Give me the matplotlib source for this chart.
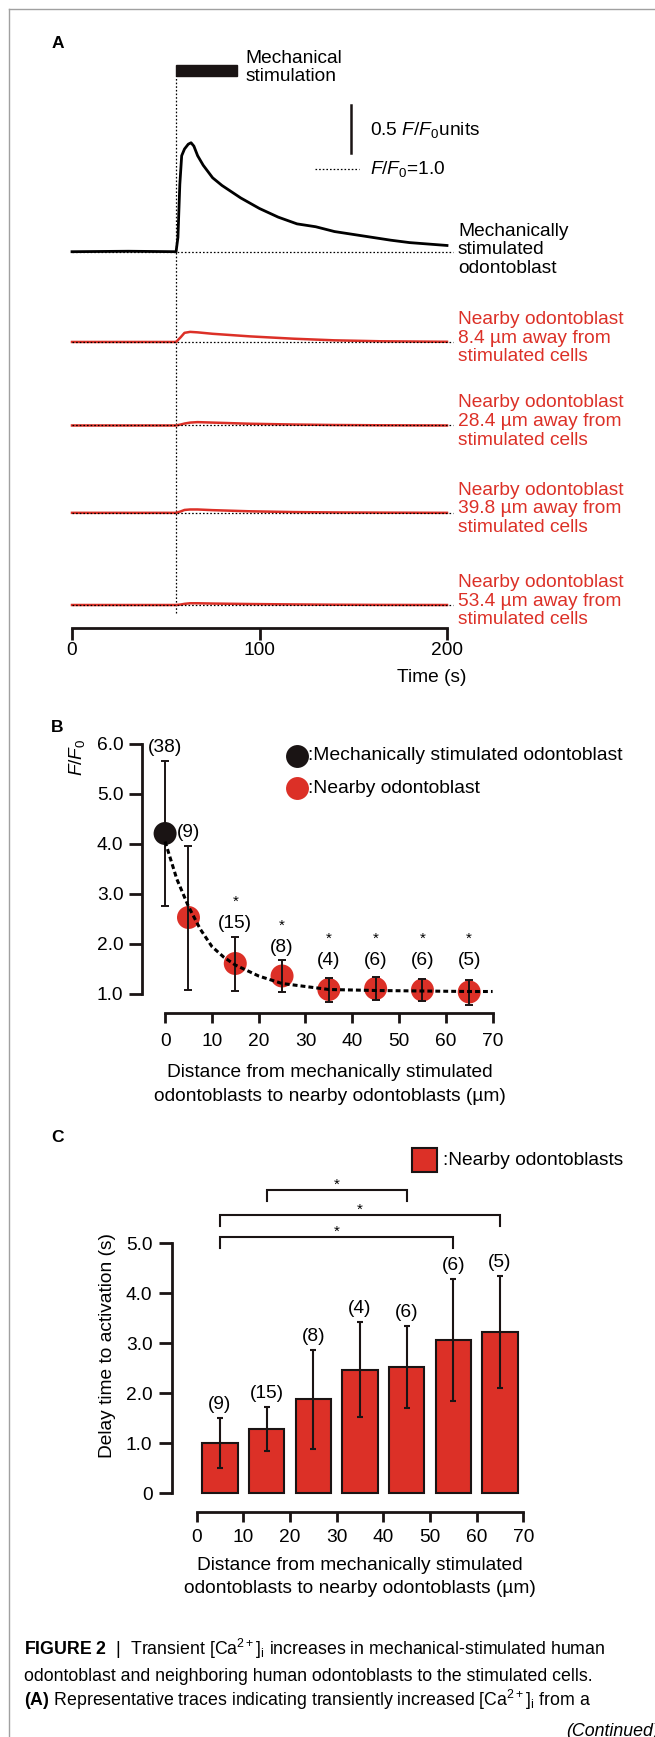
import matplotlib
matplotlib.use('Agg')
import matplotlib.pyplot as plt
from matplotlib.lines import Line2D
from matplotlib.patches import Rectangle

plt.rcParams['font.family'] = ['Liberation Sans', 'DejaVu Sans']
plt.rcParams['mathtext.fontset'] = 'custom'
plt.rcParams['mathtext.rm'] = 'Liberation Sans'
plt.rcParams['mathtext.it'] = 'Liberation Sans:italic'
plt.rcParams['mathtext.bf'] = 'Liberation Sans:bold'

RED = '#DC3027'
BLACK = '#1a1414'

# ---------------- data ----------------
# Panel A: representative traces, F/F0 - 1 against time (s)
stim_on, stim_off = 55.5, 88.0
t_stim = [0, 30, 55.5, 56.5, 57.5, 58.5, 60, 62, 63.5, 65, 67, 70, 75, 80, 90,
          100, 110, 120, 130, 140, 150, 160, 170, 180, 190, 200]
f_stim = [0, 0.005, 0, 0.15, 0.7, 1.0, 1.07, 1.12, 1.135, 1.10, 1.0, 0.9, 0.77,
          0.69, 0.56, 0.45, 0.36, 0.29, 0.26, 0.21, 0.18, 0.15, 0.12, 0.095, 0.08, 0.065]
t_near = [0, 55.5, 58, 60, 63, 67, 75, 95, 118, 140, 165, 200]
f_near = [
    [0, 0, 0.05, 0.095, 0.105, 0.10, 0.085, 0.058, 0.034, 0.017, 0.007, 0.002],
    [0, 0, 0.01, 0.02, 0.03, 0.035, 0.03, 0.018, 0.01, 0.005, 0.002, 0],
    [0, 0, 0.015, 0.03, 0.035, 0.035, 0.028, 0.016, 0.008, 0.004, 0.002, 0],
    [0, 0, 0.005, 0.012, 0.018, 0.018, 0.015, 0.01, 0.006, 0.003, 0.001, 0],
]
near_dist = ['8.4', '28.4', '39.8', '53.4']
time_ticks = [0, 100, 200]

# Panel B: peak F/F0 against distance
dist_b = [0, 5, 15, 25, 35, 45, 55, 65]
mean_b = [4.21, 2.53, 1.61, 1.36, 1.09, 1.11, 1.08, 1.04]
sd_b = [1.45, 1.44, 0.54, 0.32, 0.24, 0.23, 0.22, 0.25]
n_b = [38, 9, 15, 8, 4, 6, 6, 5]
sig_b = [False, False, True, True, True, True, True, True]
fit_x = [0, 2.5, 5, 7.5, 10, 12.5, 15, 20, 25, 30, 35, 45, 55, 65, 70]
fit_y = [4.05, 3.3, 2.75, 2.3, 1.95, 1.74, 1.58, 1.36, 1.21, 1.15, 1.09, 1.07, 1.06, 1.05, 1.05]

# Panel C: delay time to activation
dist_c = [5, 15, 25, 35, 45, 55, 65]
delay = [1.0, 1.29, 1.88, 2.47, 2.52, 3.07, 3.23]
delay_sd = [0.5, 0.44, 0.99, 0.95, 0.82, 1.22, 1.12]
n_c = [9, 15, 8, 4, 6, 6, 5]
pairs_c = [(15, 45), (5, 65), (5, 55)]

# ---------------- layout helpers ----------------
W, H = 655, 1737
fig = plt.figure(figsize=(W / 100, H / 100), dpi=100)


def fx(px):
    return px / W


def fy(py):
    return 1 - py / H


def axes_px(left, top, right, bottom):
    return fig.add_axes([fx(left), fy(bottom), (right - left) / W, (bottom - top) / H])


def ftext(px, py, s, **kw):
    return fig.text(fx(px), fy(py), s, **kw)


# page frame
fig.add_artist(Line2D([fx(9), fx(9)], [fy(9), 0], color='#a0a0a0', lw=1.0))
fig.add_artist(Line2D([fx(9), 1], [fy(9), fy(9)], color='#a0a0a0', lw=1.0))

FS = 13.8
dotted = (0, (1.3, 1.6))

# ---------------- Panel A ----------------
axA = axes_px(72, 60, 447, 628)
axA.set_xlim(0, 200)
axA.set_ylim(-0.2396, 5.677)
offsets = [3.68, 2.74, 1.87, 0.96, 0.0]

axA.plot([0, 203], [offsets[0]] * 2, color='k', lw=0.9, ls=dotted, clip_on=False)
axA.plot(t_stim, [v + offsets[0] for v in f_stim], color='k', lw=2.0, clip_on=False, zorder=3)
ftext(458, 250, 'Mechanically\nstimulated\nodontoblast', fontsize=FS, va='center',
      ha='left', linespacing=1.14)
for i, vals in enumerate(f_near):
    off = offsets[i + 1]
    axA.plot([0, 203], [off, off], color='k', lw=0.9, ls=dotted, clip_on=False, zorder=4)
    axA.plot(t_near, [v + off for v in vals], color=RED, lw=1.8, clip_on=False, zorder=3)
    axA.text(206, off + 0.04, 'Nearby odontoblast\n%s \u00b5m away from\nstimulated cells' % near_dist[i],
             fontsize=FS, color=RED, va='center', ha='left', linespacing=1.14, clip_on=False)

# stimulus marker and onset line
axA.add_patch(Rectangle((stim_on, 5.51), stim_off - stim_on, 0.115, color=BLACK, clip_on=False))
axA.plot([stim_on, stim_on], [-0.083, 5.51], color='k', lw=0.9, ls=dotted, clip_on=False)
axA.text(92.4, 5.60, 'Mechanical\nstimulation', fontsize=FS, va='center', ha='left', linespacing=1.08)

# scale bar
axA.plot([149, 149], [4.708, 5.208], color=BLACK, lw=1.8)
axA.text(158.8, 4.95, r'0.5 $\mathit{F/F_0}$units', fontsize=FS, va='center', ha='left')
axA.plot([129.7, 153], [4.54, 4.54], color='k', lw=0.9, ls=dotted)
axA.text(159.1, 4.54, r'$\mathit{F/F_0}$=1.0', fontsize=FS, va='center', ha='left')

for s in ['left', 'right', 'top']:
    axA.spines[s].set_visible(False)
axA.spines['bottom'].set_linewidth(2.0)
axA.spines['bottom'].set_color(BLACK)
axA.set_yticks([])
axA.set_xticks(time_ticks)
axA.set_xticklabels([str(t) for t in time_ticks])
axA.tick_params(axis='x', direction='out', length=8.4, width=2.0, color=BLACK,
                labelsize=FS, pad=2)
ftext(432, 677, 'Time (s)', fontsize=FS, ha='center', va='center')
ftext(58, 43, 'A', fontsize=12.5, fontweight='bold', ha='center', va='center')

# ---------------- Panel B ----------------
axB = axes_px(141.7, 744, 492.6, 1013)
axB.set_xlim(-5, 70)
axB.set_ylim(0.62, 6.0)
colors_b = [BLACK] + [RED] * (len(dist_b) - 1)
axB.scatter(dist_b, mean_b, s=274, c=colors_b, linewidths=0, zorder=2, clip_on=False)
axB.errorbar(dist_b, mean_b, yerr=sd_b, fmt='none', ecolor=BLACK, elinewidth=1.4,
             capsize=3, capthick=1.4, zorder=3, clip_on=False)
axB.plot(fit_x, fit_y, color='k', lw=2.2, ls=(0, (1.6, 1.0)), zorder=4, clip_on=False)
for x, m, sd, n, sig in zip(dist_b, mean_b, sd_b, n_b, sig_b):
    ly = max(m + sd + 0.26, 1.67)
    axB.text(x, ly, '(%d)' % n, fontsize=FS, ha='center', va='center', clip_on=False)
    if sig:
        axB.text(x, ly + 0.52 - 0.17, '*', fontsize=11, ha='center', va='baseline', clip_on=False)

for s in ['right', 'top']:
    axB.spines[s].set_visible(False)
for s in ['left', 'bottom']:
    axB.spines[s].set_linewidth(2.0)
    axB.spines[s].set_color(BLACK)
axB.spines['left'].set_bounds(1, 6)
axB.spines['bottom'].set_bounds(0, 70)
axB.set_yticks([1, 2, 3, 4, 5, 6])
axB.set_yticklabels(['1.0', '2.0', '3.0', '4.0', '5.0', '6.0'])
axB.set_xticks(range(0, 71, 10))
axB.tick_params(axis='y', direction='out', length=9.4, width=2.0, color=BLACK,
                labelsize=FS, pad=3.8)
axB.tick_params(axis='x', direction='out', length=7.2, width=2.0, color=BLACK,
                labelsize=FS, pad=7.2)
ftext(77, 757, r'$\mathit{F/F_0}$', fontsize=FS, rotation=90, ha='center', va='center')
ftext(330, 1084.5, 'Distance from mechanically stimulated\nodontoblasts to nearby odontoblasts (\u00b5m)',
      fontsize=FS, ha='center', va='center', linespacing=1.5)
ftext(57, 727, 'B', fontsize=12.5, fontweight='bold', ha='center', va='center')

# legend B
fig.add_artist(Line2D([fx(297.3)], [fy(756)], marker='o', ms=16.5, color=BLACK, mew=0, ls='none'))
fig.add_artist(Line2D([fx(297.3)], [fy(788.3)], marker='o', ms=16.5, color=RED, mew=0, ls='none'))
ftext(308.3, 756, ':Mechanically stimulated odontoblast', fontsize=13.9, va='center', ha='left')
ftext(308.3, 788.3, ':Nearby odontoblast', fontsize=13.9, va='center', ha='left')

# ---------------- Panel C ----------------
axC = axes_px(171.7, 1243.3, 523.3, 1511.7)
axC.set_xlim(-5.36, 70)
axC.set_ylim(-0.368, 5.0)
axC.bar(dist_c, delay, width=7.6, color=RED, edgecolor=BLACK, linewidth=1.5, zorder=2)
axC.errorbar(dist_c, delay, yerr=delay_sd, fmt='none', ecolor=BLACK, elinewidth=1.5,
             capsize=2.5, capthick=1.5, zorder=3)
for x, m, sd, n in zip(dist_c, delay, delay_sd, n_c):
    axC.text(x, m + sd + 0.27, '(%d)' % n, fontsize=FS, ha='center', va='center', clip_on=False)

bracket_y = [6.07, 5.57, 5.13]
for (a, b), yb in zip(pairs_c, bracket_y):
    axC.plot([a, a, b, b], [yb - 0.23, yb, yb, yb - 0.23], color=BLACK, lw=1.5,
             clip_on=False, solid_joinstyle='miter')
    axC.text((a + b) / 2, yb + 0.02, '*', fontsize=11, ha='center', va='baseline', clip_on=False)

for s in ['right', 'top']:
    axC.spines[s].set_visible(False)
for s in ['left', 'bottom']:
    axC.spines[s].set_linewidth(2.0)
    axC.spines[s].set_color(BLACK)
axC.spines['left'].set_bounds(0, 5)
axC.spines['bottom'].set_bounds(0, 70)
axC.set_yticks([0, 1, 2, 3, 4, 5])
axC.set_yticklabels(['0', '1.0', '2.0', '3.0', '4.0', '5.0'])
axC.set_xticks(range(0, 71, 10))
axC.tick_params(axis='y', direction='out', length=9.4, width=2.0, color=BLACK,
                labelsize=FS, pad=4.5)
axC.tick_params(axis='x', direction='out', length=7.2, width=2.0, color=BLACK,
                labelsize=FS, pad=5.5)
ftext(107.3, 1345.7, 'Delay time to activation (s)', fontsize=FS, rotation=90,
      ha='center', va='center')
ftext(360, 1577, 'Distance from mechanically stimulated\nodontoblasts to nearby odontoblasts (\u00b5m)',
      fontsize=FS, ha='center', va='center', linespacing=1.5)
ftext(57, 1138, 'C', fontsize=12.5, fontweight='bold', ha='center', va='center')

# legend C
fig.add_artist(Rectangle((fx(411.7), fy(1172.3)), 25 / W, 24 / H, facecolor=RED,
                         edgecolor=BLACK, lw=1.5, transform=fig.transFigure))
ftext(443.3, 1160.7, ':Nearby odontoblasts', fontsize=FS, va='center', ha='left')

# ---------------- caption ----------------
ftext(24, 1655, r'$\mathbf{FIGURE\ 2}$  |  Transient [Ca$^{2+}$]$_\mathrm{i}$ increases in mechanical-stimulated human',
      fontsize=12.8, va='baseline', ha='left')
ftext(24, 1681, 'odontoblast and neighboring human odontoblasts to the stimulated cells.',
      fontsize=12.8, va='baseline', ha='left')
ftext(24, 1706, r'$\mathbf{(A)}$ Representative traces indicating transiently increased [Ca$^{2+}$]$_\mathrm{i}$ from a',
      fontsize=12.8, va='baseline', ha='left')
ftext(566, 1736, '(Continued)', fontsize=12.8, style='italic', va='baseline', ha='left')

fig.savefig('out.png', dpi=100)
